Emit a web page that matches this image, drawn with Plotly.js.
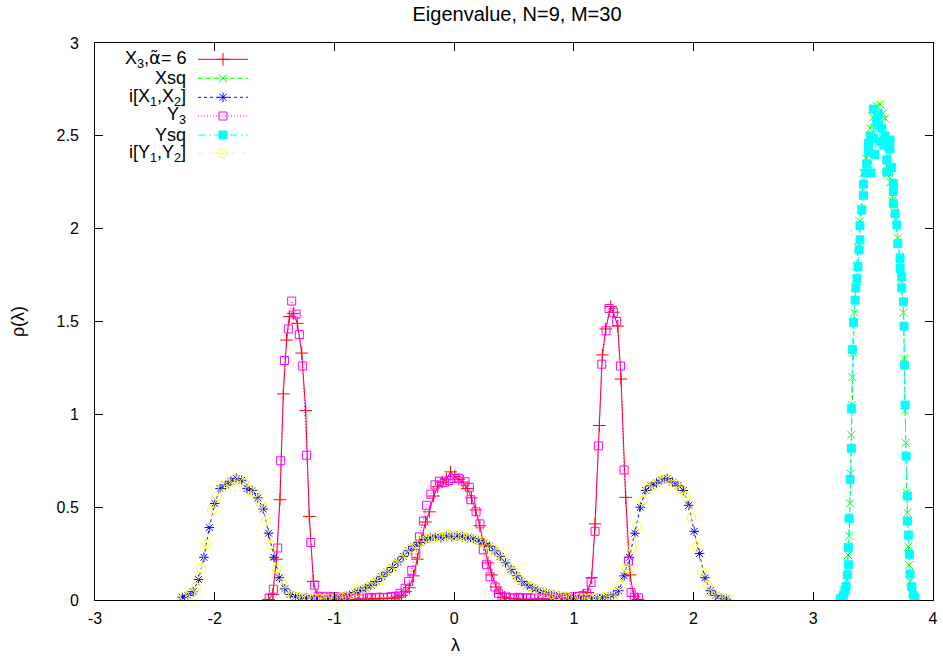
<!DOCTYPE html>
<html>
<head>
<meta charset="utf-8">
<script src="https://cdn.plot.ly/plotly-3.0.1.min.js"></script>
<style>
html,body{margin:0;padding:0;background:#fff;}
#chart{width:943px;height:659px;}
</style>
</head>
<body>
<div id="chart"></div>
<script>
// ---- data ----
const seriesNames = ["X<sub>3</sub>,<span style=\"font-family:DejaVu Sans\">α̃</span>= 6", "Xsq", "i[X<sub>1</sub>,X<sub>2</sub>]", "Y<sub>3</sub>", "Ysq", "i[Y<sub>1</sub>,Y<sub>2</sub>]"];

const xX3 = [-1.55,-1.515,-1.485,-1.455,-1.427,-1.40,-1.377,-1.343,-1.31,-1.273,-1.24,-1.21,-1.176,-1.145,-1.10,-1.04,-0.98,-0.92,-0.86,-0.80,-0.74,-0.68,-0.62,-0.56,-0.50,-0.47,-0.44,-0.405,-0.374,-0.34,-0.307,-0.272,-0.24,-0.207,-0.172,-0.137,-0.10,-0.065,-0.029,0.005,0.04,0.075,0.11,0.145,0.18,0.215,0.25,0.283,0.314,0.35,0.385,0.42,0.46,0.52,0.58,0.64,0.70,0.76,0.82,0.88,0.94,1.00,1.05,1.08,1.115,1.149,1.177,1.213,1.238,1.266,1.308,1.33,1.367,1.394,1.433,1.47,1.50,1.535];
const yX3 = [0.003,0.03,0.22,0.54,1.11,1.40,1.526,1.544,1.49,1.33,1.02,0.45,0.10,0.02,0.008,0.005,0.004,0.004,0.005,0.004,0.005,0.005,0.006,0.008,0.01,0.015,0.025,0.045,0.066,0.13,0.22,0.32,0.42,0.475,0.56,0.61,0.635,0.65,0.69,0.665,0.65,0.635,0.60,0.55,0.485,0.40,0.30,0.20,0.135,0.07,0.035,0.015,0.008,0.005,0.004,0.004,0.005,0.004,0.004,0.005,0.006,0.01,0.015,0.02,0.04,0.12,0.41,0.94,1.32,1.46,1.58,1.55,1.475,1.19,0.553,0.135,0.02,0.003];

const xXsq = [3.23,3.25,3.265,3.28,3.29,3.30,3.307,3.312,3.318,3.321,3.328,3.335,3.343,3.352,3.362,3.375,3.39,3.40,3.419,3.44,3.46,3.475,3.50,3.53,3.56,3.58,3.60,3.614,3.627,3.645,3.662,3.677,3.69,3.705,3.72,3.735,3.753,3.76,3.766,3.772,3.78,3.786,3.794,3.80,3.81,3.825,3.845];
const yXsq = [0.008,0.025,0.05,0.11,0.242,0.345,0.52,0.68,0.89,1.05,1.20,1.33,1.547,1.69,1.80,1.90,2.04,2.11,2.30,2.38,2.45,2.54,2.60,2.66,2.67,2.62,2.594,2.29,2.333,2.25,2.15,2.09,2.046,1.95,1.85,1.72,1.547,1.30,1.02,0.847,0.578,0.47,0.287,0.188,0.10,0.04,0.01];

const xIX = [-2.27,-2.225,-2.18,-2.135,-2.09,-2.045,-2.00,-1.955,-1.91,-1.865,-1.82,-1.775,-1.73,-1.685,-1.64,-1.595,-1.55,-1.505,-1.46,-1.415,-1.37,-1.325,-1.28,-1.235,-1.19,-1.145,-1.10,-1.055,-1.01,-0.965,-0.92,-0.875,-0.83,-0.785,-0.74,-0.695,-0.65,-0.605,-0.56,-0.515,-0.47,-0.425,-0.38,-0.335,-0.29,-0.245,-0.20,-0.155,-0.11,-0.065,-0.02,0.025,0.07,0.115,0.16,0.205,0.25,0.295,0.34,0.385,0.43,0.475,0.52,0.565,0.61,0.655,0.70,0.745,0.79,0.835,0.88,0.925,0.97,1.015,1.06,1.105,1.15,1.195,1.24,1.285,1.33,1.375,1.42,1.465,1.51,1.555,1.60,1.645,1.69,1.735,1.78,1.825,1.87,1.915,1.96,2.005,2.05,2.095,2.14,2.185,2.23,2.275];
const yIX = [0.015,0.025,0.045,0.11,0.23,0.39,0.52,0.60,0.62,0.64,0.655,0.645,0.60,0.59,0.55,0.49,0.36,0.23,0.12,0.06,0.03,0.018,0.012,0.01,0.008,0.007,0.006,0.006,0.008,0.012,0.018,0.028,0.04,0.05,0.065,0.08,0.10,0.125,0.15,0.175,0.205,0.235,0.265,0.29,0.31,0.325,0.335,0.34,0.335,0.345,0.34,0.345,0.34,0.335,0.33,0.32,0.305,0.29,0.265,0.235,0.20,0.165,0.13,0.10,0.08,0.065,0.05,0.04,0.033,0.028,0.022,0.018,0.014,0.01,0.008,0.008,0.009,0.011,0.013,0.018,0.027,0.05,0.13,0.23,0.36,0.50,0.59,0.615,0.63,0.645,0.655,0.635,0.615,0.59,0.51,0.37,0.25,0.12,0.05,0.025,0.01,0.005];

const xY3 = [-1.545,-1.51,-1.474,-1.449,-1.418,-1.385,-1.357,-1.32,-1.293,-1.265,-1.232,-1.198,-1.168,-1.135,-1.10,-1.066,-1.032,-0.998,-0.964,-0.93,-0.896,-0.862,-0.828,-0.794,-0.76,-0.726,-0.692,-0.658,-0.624,-0.59,-0.556,-0.522,-0.488,-0.452,-0.41,-0.38,-0.354,-0.32,-0.29,-0.257,-0.23,-0.195,-0.16,-0.123,-0.082,-0.043,-0.001,0.041,0.091,0.127,0.139,0.183,0.216,0.244,0.27,0.30,0.342,0.37,0.40,0.434,0.468,0.502,0.536,0.57,0.604,0.638,0.672,0.706,0.74,0.774,0.808,0.842,0.876,0.91,0.944,0.978,1.012,1.046,1.08,1.108,1.144,1.177,1.205,1.233,1.269,1.294,1.33,1.358,1.389,1.42,1.456,1.478,1.505,1.54];
const yY3 = [0.01,0.058,0.28,0.75,1.29,1.46,1.61,1.54,1.43,1.26,0.78,0.31,0.08,0.02,0.015,0.02,0.012,0.018,0.01,0.015,0.012,0.01,0.014,0.01,0.012,0.015,0.01,0.012,0.015,0.012,0.014,0.018,0.02,0.036,0.063,0.10,0.16,0.25,0.34,0.425,0.51,0.57,0.62,0.64,0.634,0.643,0.655,0.655,0.637,0.607,0.54,0.475,0.41,0.27,0.19,0.125,0.07,0.036,0.02,0.015,0.012,0.01,0.014,0.01,0.012,0.01,0.013,0.01,0.012,0.01,0.014,0.012,0.01,0.013,0.015,0.012,0.018,0.02,0.025,0.036,0.095,0.37,0.83,1.27,1.45,1.57,1.55,1.50,1.26,0.70,0.21,0.04,0.015,0.012];

const xYsq = [3.225,3.24,3.252,3.265,3.274,3.285,3.293,3.293,3.299,3.307,3.318,3.318,3.326,3.335,3.349,3.356,3.365,3.373,3.383,3.39,3.39,3.405,3.419,3.419,3.435,3.447,3.46,3.46,3.475,3.483,3.502,3.502,3.516,3.53,3.544,3.544,3.558,3.572,3.586,3.60,3.614,3.614,3.627,3.641,3.641,3.655,3.669,3.669,3.669,3.684,3.698,3.706,3.725,3.725,3.739,3.739,3.753,3.758,3.761,3.766,3.775,3.786,3.786,3.794,3.803,3.808,3.822,3.836,3.85];
const yYsq = [0.005,0.012,0.027,0.05,0.072,0.135,0.19,0.284,0.44,0.65,0.817,1.03,1.35,1.495,1.615,1.68,1.732,1.795,1.885,1.94,2.016,2.10,2.18,2.24,2.30,2.35,2.414,2.46,2.50,2.30,2.487,2.644,2.40,2.58,2.615,2.558,2.47,2.54,2.45,2.50,2.37,2.306,2.44,2.477,2.43,2.33,2.244,2.2,2.136,2.08,2.02,1.92,1.84,1.786,1.741,1.68,1.606,1.475,1.265,1.05,0.775,0.56,0.425,0.35,0.246,0.14,0.072,0.027,0.01];

const xIY = [-2.248,-2.203,-2.158,-2.113,-2.068,-2.023,-1.978,-1.933,-1.888,-1.843,-1.798,-1.753,-1.708,-1.663,-1.618,-1.573,-1.528,-1.483,-1.438,-1.393,-1.348,-1.303,-1.258,-1.213,-1.168,-1.123,-1.078,-1.033,-0.988,-0.943,-0.898,-0.853,-0.808,-0.763,-0.718,-0.673,-0.628,-0.583,-0.538,-0.493,-0.448,-0.403,-0.358,-0.313,-0.268,-0.223,-0.178,-0.133,-0.088,-0.043,0.002,0.047,0.092,0.137,0.182,0.227,0.272,0.317,0.362,0.407,0.452,0.497,0.542,0.587,0.632,0.677,0.722,0.767,0.812,0.857,0.902,0.947,0.992,1.037,1.082,1.127,1.172,1.217,1.262,1.307,1.352,1.397,1.442,1.487,1.532,1.577,1.622,1.667,1.712,1.757,1.802,1.847,1.892,1.937,1.982,2.027,2.072,2.117,2.162,2.207,2.252,2.297];
const yIY = [0.02,0.03,0.07,0.17,0.30,0.48,0.56,0.61,0.625,0.65,0.64,0.63,0.59,0.58,0.52,0.43,0.30,0.17,0.09,0.045,0.025,0.016,0.012,0.01,0.009,0.008,0.008,0.009,0.01,0.014,0.02,0.032,0.045,0.058,0.072,0.09,0.11,0.14,0.165,0.19,0.22,0.25,0.28,0.30,0.315,0.33,0.335,0.345,0.34,0.35,0.345,0.35,0.34,0.335,0.325,0.315,0.30,0.28,0.255,0.22,0.185,0.15,0.115,0.09,0.072,0.058,0.045,0.037,0.03,0.025,0.02,0.016,0.012,0.01,0.009,0.009,0.01,0.012,0.016,0.022,0.04,0.08,0.17,0.28,0.40,0.535,0.60,0.62,0.64,0.65,0.645,0.625,0.60,0.556,0.445,0.287,0.153,0.08,0.035,0.015,0.008,0.004];

const xTicks = [-3,-2,-1,0,1,2,3,4];
const xTickText = ["-3","-2","-1","0","1","2","3","4"];
const yTicks = [0,0.5,1,1.5,2,2.5,3];
const yTickText = ["0","0.5","1","1.5","2","2.5","3"];

// ---- styles ----
const FONT = "Liberation Sans, Arial, sans-serif";
const L = 95, R = 933, T = 43, B = 600;
const px2x = p => (p - L) / (R - L);
const px2y = p => (B - p) / (B - T);
const rowsPx = [59.3, 78.3, 97.3, 116, 135, 153.3];
const legendIds = ["legend", "legend2", "legend3", "legend4", "legend5", "legend6"];

function tr(i, x, y, color, dash, symbol, msize) {
  return {
    x: x, y: y, type: "scatter", mode: "lines+markers", name: " ",
    legend: legendIds[i], showlegend: true,
    line: {color: color, width: 1, dash: dash},
    marker: {symbol: symbol, size: msize, color: color, line: {color: color, width: 1}}
  };
}
const data = [
  tr(0, xX3, yX3, "#ff0000", "solid", "cross-thin-open", 9),
  tr(1, xXsq, yXsq, "#00ff00", "5px,3px", "x-thin-open", 8),
  tr(2, xIX, yIX, "#0000ff", "3px,3px", "asterisk-open", 8),
  tr(3, xY3, yY3, "#ff00ff", "1px,2px", "square-open", 8),
  tr(4, xYsq, yYsq, "#00ffff", "8px,3px,2px,3px", "square", 8),
  tr(5, xIY, yIY, "#ffff00", "4px,3px,1px,3px", "circle-open", 9)
];

const annotations = seriesNames.map((t, i) => ({
  text: t, showarrow: false, xref: "paper", yref: "paper",
  x: px2x(188), y: px2y(rowsPx[i]),
  xanchor: "right", yanchor: "middle",
  font: {family: FONT, size: 18, color: "#000"}
}));
annotations.push({
  text: "λ", showarrow: false, xref: "paper", yref: "paper",
  x: px2x(455), y: px2y(645), xanchor: "center", yanchor: "middle",
  font: {family: FONT, size: 18, color: "#000"}
});

const layout = {
  width: 943, height: 659,
  margin: {l: L, r: 943 - R, t: T, b: 659 - B, pad: 0},
  paper_bgcolor: "#fff", plot_bgcolor: "#fff",
  showlegend: true,
  title: {text: "Eigenvalue, N=9, M=30", x: 517 / 943, xref: "container", xanchor: "center",
          y: 1 - 14 / 659, yref: "container", yanchor: "middle",
          font: {family: FONT, size: 20, color: "#000"}},
  xaxis: {range: [-3, 4], tickvals: xTicks, ticktext: xTickText, ticks: "inside", ticklen: 8,
          tickcolor: "#000", showline: true, linecolor: "#000", linewidth: 1, mirror: "ticks",
          showgrid: false, zeroline: false, automargin: false, ticklabelstandoff: 4,
          tickfont: {family: FONT, size: 16, color: "#000"}},
  yaxis: {range: [0, 3], tickvals: yTicks, ticktext: yTickText, ticks: "inside", ticklen: 8,
          tickcolor: "#000", showline: true, linecolor: "#000", linewidth: 1, mirror: "ticks",
          showgrid: false, zeroline: false, automargin: false, ticklabelstandoff: 12,
          tickfont: {family: FONT, size: 16, color: "#000"},
          title: {text: "ρ(λ)", font: {family: FONT, size: 18, color: "#000"}, standoff: 27}},
  annotations: annotations
};
legendIds.forEach((id, i) => {
  layout[id] = {x: px2x(193), y: px2y(rowsPx[i]), xanchor: "left", yanchor: "middle",
                bgcolor: "rgba(0,0,0,0)", borderwidth: 0,
                font: {family: FONT, size: 12}, itemwidth: 50};
});

Plotly.newPlot("chart", data, layout, {staticPlot: true, displayModeBar: false});
</script>
</body>
</html>
